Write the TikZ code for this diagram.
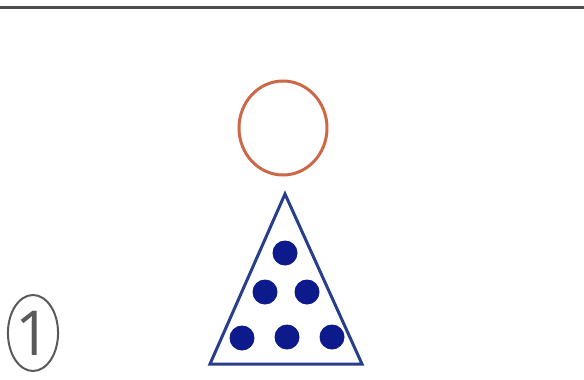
\documentclass[tikz,border=0pt]{standalone}
\usepackage{tikz}
\usepackage{fontspec}
\usetikzlibrary{shapes,positioning,calc}

\newfontfamily\numfont{Open Sans}
\definecolor{ringorange}{RGB}{204,104,72}
\definecolor{triblue}{RGB}{40,62,140}
\definecolor{dotblue}{RGB}{12,26,140}
\definecolor{numgray}{RGB}{90,90,90}

\begin{document}
\begin{tikzpicture}[x=1pt, y=-1pt,
    dot/.style={circle, fill=dotblue, inner sep=0pt, minimum size=25pt}]
    \useasboundingbox[fill=white] (0,0) rectangle (584,380);
    \draw[line width=3pt, black!70] (0,7) -- (584,7);

    \node[ellipse, draw=ringorange, line width=3pt, minimum width=88pt, minimum height=94pt] (ring) at (283,128) {};
    \coordinate (apex) at (285,194);
    \coordinate (bl) at (210,364);
    \coordinate (br) at (362,364);
    \draw[triblue, line width=3pt, line join=miter] (apex) -- (bl) -- (br) -- cycle;

    \foreach \name/\px/\py in {d1/285/253, d2/265/292, d3/307/292, d4/242/338, d5/287/337, d6/332/337}
        \node[dot] (\name) at (\px,\py) {};

    \node[ellipse, draw=numgray, line width=2pt, minimum width=48pt, minimum height=76pt, inner sep=0pt,
          text=numgray, font=\numfont\fontsize{62}{62}\selectfont] (num) at (33,333) {1};
\end{tikzpicture}
\end{document}
